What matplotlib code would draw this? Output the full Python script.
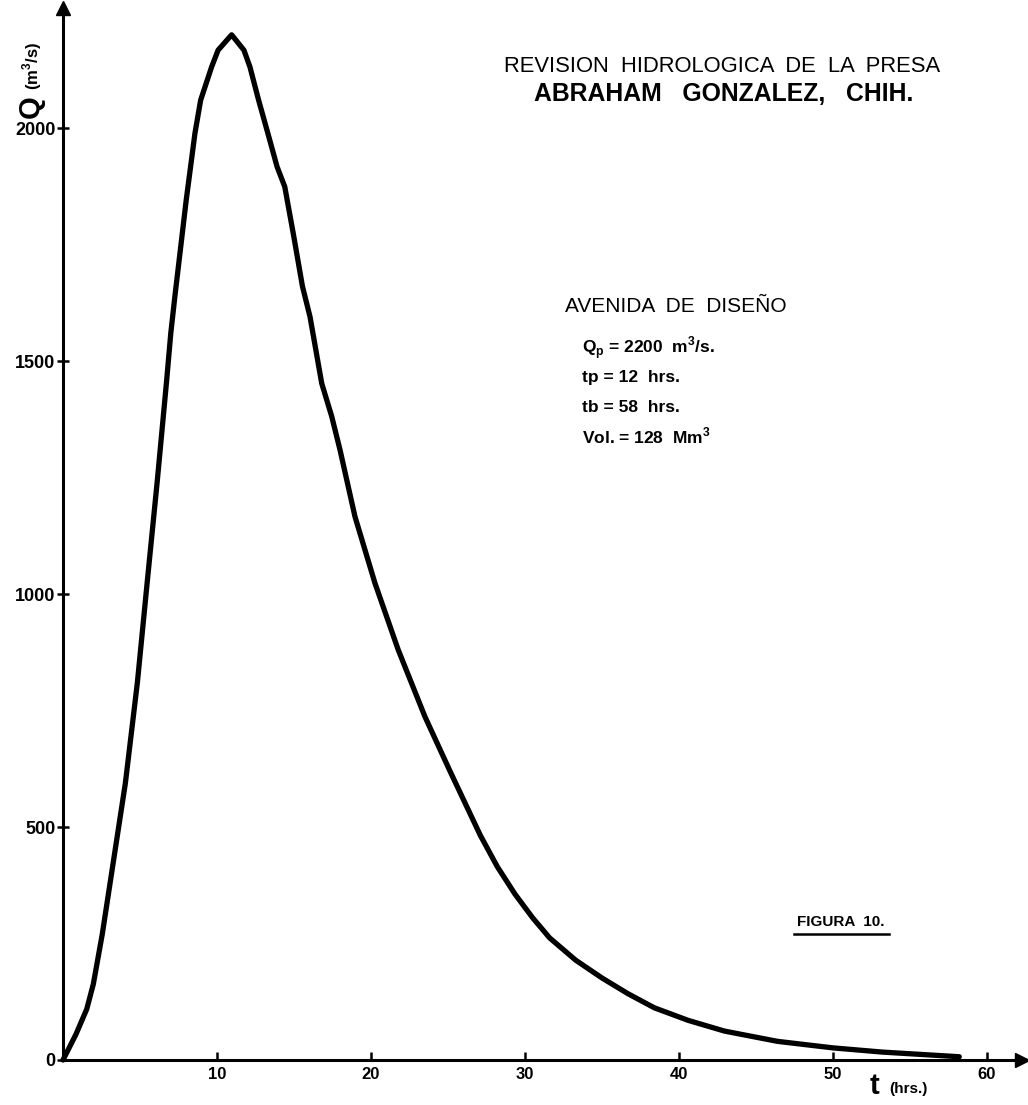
import matplotlib
matplotlib.use("Agg")
import matplotlib.pyplot as plt
from matplotlib.lines import Line2D

# hidrograma de la avenida de diseno
t_hrs = [0, 0.84, 1.54, 1.97, 2.55, 3.05, 4.05, 4.83, 5.47, 6.12, 6.73, 7.0,
         7.27, 8.0, 8.57, 8.94, 9.65, 10.07, 10.95, 11.75, 12.14, 12.7, 13.3,
         13.9, 14.4, 14.95, 15.55, 16.04, 16.8, 17.45, 17.99, 18.96, 20.26,
         21.77, 23.5, 25.1, 26.2, 27.1, 28.2, 29.35, 30.5, 31.6, 33.3, 35.0,
         36.7, 38.4, 40.6, 42.96, 46.4, 50.0, 53.2, 58.2]
q_m3s = [0, 55, 109, 163, 270, 378, 594, 810, 1026, 1242, 1458, 1560,
         1640, 1845, 1989, 2060, 2131, 2167, 2200, 2167, 2131, 2060, 1989,
         1917, 1874, 1774, 1660, 1595, 1452, 1381, 1309, 1166, 1023,
         880, 737, 622, 545, 482, 415, 356, 305, 262, 214, 176,
         142, 112, 85, 62, 40, 26, 17, 7]

x_ticks = [10, 20, 30, 40, 50, 60]
y_ticks = [0, 500, 1000, 1500, 2000]

datos = ["Q$_\\mathregular{p}$ = 2200  m$^\\mathregular{3}$/s.",
         "tp = 12  hrs.",
         "tb = 58  hrs.",
         "Vol. = 128  Mm$^\\mathregular{3}$"]

W, H = 1028, 1105

plt.rcParams['font.family'] = ['Liberation Sans', 'DejaVu Sans']
plt.rcParams['font.weight'] = 'bold'

def fx(x):
    return x / W

def fy(y):
    return 1 - y / H

fig = plt.figure(figsize=(W / 100, H / 100), dpi=100)
fig.patch.set_facecolor('white')

# ejes: origen en (63, 1060) px, 15.4 px por hora, 0.466 px por m3/s
ax = fig.add_axes([fx(63), fy(1060), 959 / W, 1052 / H])
ax.set_xlim(0, 959 / 15.4)
ax.set_ylim(0, 1052 / 0.466)

ax.plot(t_hrs, q_m3s, color='black', lw=3.8, solid_joinstyle='round',
        solid_capstyle='round', clip_on=False)

for s in ['top', 'right']:
    ax.spines[s].set_visible(False)
for s in ['left', 'bottom']:
    ax.spines[s].set_linewidth(2.2)

# flechas al final de los ejes
ax.plot(1, 0, '>k', markersize=10, transform=ax.transAxes, clip_on=False)
ax.plot(0, 1, '^k', markersize=10, transform=ax.transAxes, clip_on=False)

ax.set_xticks(x_ticks)
ax.set_yticks(y_ticks)
ax.tick_params(axis='x', direction='in', length=6, width=1.8, labelsize=12, pad=5)
ax.tick_params(axis='y', direction='inout', length=9, width=1.8, labelsize=13, pad=1)

# titulo de ejes
fig.text(fx(31), fy(107), 'Q', rotation=90, fontsize=21, ha='center', va='center')
fig.text(fx(32), fy(66), '(m$^\\mathregular{3}$/s)', rotation=90, fontsize=12,
         ha='center', va='center')
fig.text(fx(875), fy(1086), 't', fontsize=21, ha='center', va='center')
fig.text(fx(889), fy(1089), '(hrs.)', fontsize=11, ha='left', va='center')

# encabezado
fig.text(fx(722), fy(67), 'REVISION  HIDROLOGICA  DE  LA  PRESA', fontsize=15.8,
         fontweight='normal', ha='center', va='center')
fig.text(fx(724), fy(94), 'ABRAHAM   GONZALEZ,   CHIH.', fontsize=17.8,
         ha='center', va='center')

fig.text(fx(565), fy(306), 'AVENIDA  DE  DISEÑO', fontsize=15,
         fontweight='normal', ha='left', va='center')
for i, linea in enumerate(datos):
    fig.text(fx(582), fy(348 + 29.5 * i), linea, fontsize=12.5, ha='left', va='center')

fig.text(fx(841), fy(922), 'FIGURA  10.', fontsize=11, ha='center', va='center')
fig.add_artist(Line2D([fx(794), fx(889)], [fy(934), fy(934)],
                      transform=fig.transFigure, color='black', lw=1.8))

fig.savefig('out.png', dpi=100)
